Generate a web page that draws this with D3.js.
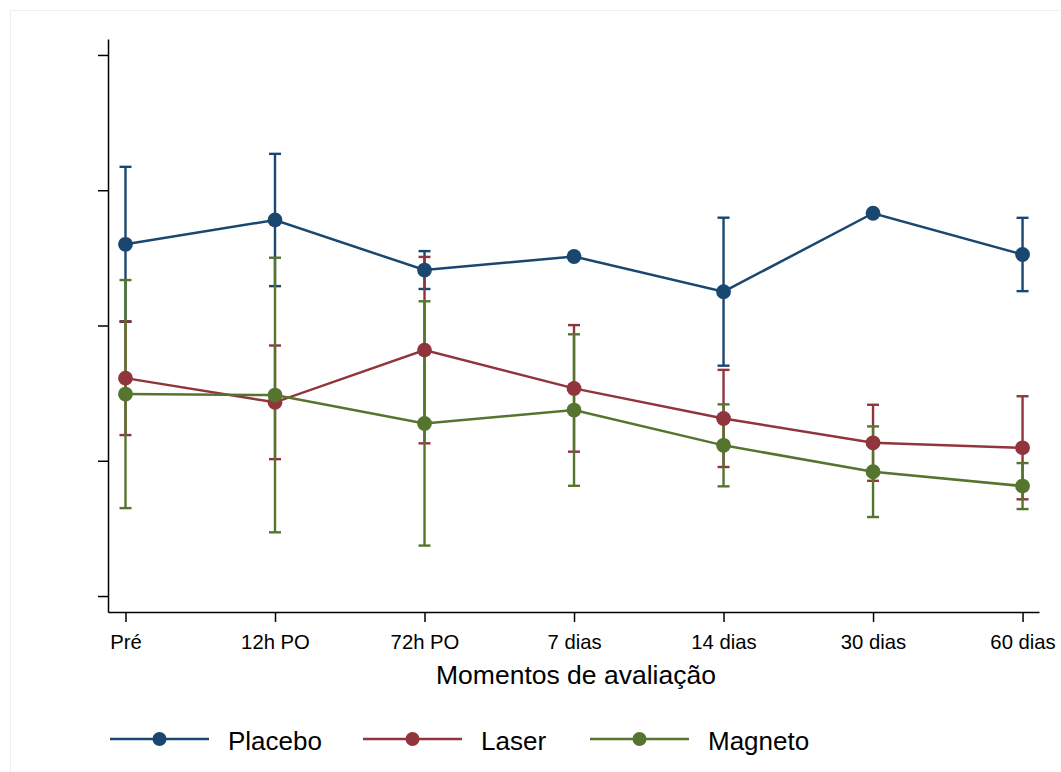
<!DOCTYPE html>
<html>
<head>
<meta charset="utf-8">
<script src="https://cdn.jsdelivr.net/npm/d3@7"></script>
<style>
  body { margin: 0; background: #fff; }
  svg { display: block; font-family: "Liberation Sans", Arial, sans-serif; }
</style>
</head>
<body>
<div id="chart-container"></div>
<script>
const width = 1061;
const height = 772;

// categories on x
const momentos = ["Pré", "12h PO", "72h PO", "7 dias", "14 dias", "30 dias", "60 dias"];
const seriesNames = ["Placebo", "Laser", "Magneto"];

// group means and error half-widths (arbitrary units)
const placeboMean = [2.60, 2.78, 2.41, 2.51, 2.25, 2.83, 2.525];
const placeboErr  = [0.573, 0.489, 0.140, 0.02, 0.547, 0.01, 0.271];
const laserMean   = [1.611, 1.432, 1.818, 1.535, 1.313, 1.133, 1.096];
const laserErr    = [0.421, 0.420, 0.689, 0.468, 0.359, 0.281, 0.381];
const magnetoMean = [1.493, 1.486, 1.276, 1.375, 1.114, 0.919, 0.813];
const magnetoErr  = [0.843, 1.015, 0.903, 0.560, 0.303, 0.335, 0.170];

const yTicks = [0, 1, 2, 3, 4];
const colors = ["#1a476f", "#90353b", "#55752f"];

const series = [
  { name: seriesNames[0], mean: placeboMean, err: placeboErr, color: colors[0] },
  { name: seriesNames[1], mean: laserMean, err: laserErr, color: colors[1] },
  { name: seriesNames[2], mean: magnetoMean, err: magnetoErr, color: colors[2] }
];

const svg = d3.select("div#chart-container").append("svg")
  .attr("width", width)
  .attr("height", height);

// faint outer frame of the graph region
svg.append("rect")
  .attr("x", 10.5).attr("y", 10.5)
  .attr("width", width + 20).attr("height", height + 20)
  .attr("fill", "none")
  .attr("stroke", "#eeeeee")
  .attr("stroke-width", 1);

const xScale = d3.scaleLinear().domain([-0.117, 6.11]).range([108, 1039]);
const yScale = d3.scaleLinear().domain([-0.118, 4.118]).range([612, 39]);

const xaxis = d3.axisBottom(xScale)
  .tickValues(d3.range(momentos.length))
  .tickFormat(i => momentos[i])
  .tickSize(10)
  .tickSizeOuter(0)
  .tickPadding(13);

const yaxis = d3.axisLeft(yScale)
  .tickValues(yTicks)
  .tickFormat("")
  .tickSize(10)
  .tickSizeOuter(0);

const gx = svg.append("g")
  .attr("class", "axis")
  .attr("transform", "translate(0,612)")
  .call(xaxis);
gx.selectAll("text")
  .attr("font-size", 20.3)
  .attr("font-family", "Liberation Sans, Arial, sans-serif")
  .attr("fill", "#000");

const gy = svg.append("g")
  .attr("class", "axis")
  .attr("transform", "translate(108,0)")
  .call(yaxis);

svg.selectAll(".axis path, .axis line")
  .attr("stroke", "#000")
  .attr("stroke-width", 1.5);

// x axis title
svg.append("text")
  .attr("x", 576)
  .attr("y", 684)
  .attr("text-anchor", "middle")
  .attr("font-size", 26.5)
  .attr("fill", "#000")
  .text("Momentos de avaliação");

// error bars (drawn first, in series order)
const capHalf = 6;
series.forEach(s => {
  const g = svg.append("g").attr("class", "errbar")
    .attr("stroke", s.color)
    .attr("stroke-width", 2.4)
    .attr("fill", "none");
  const pts = s.mean.map((m, i) => ({ i: i, lo: m - s.err[i], hi: m + s.err[i] }));
  g.selectAll("line.v").data(pts).enter().append("line")
    .attr("class", "v")
    .attr("x1", d => xScale(d.i)).attr("x2", d => xScale(d.i))
    .attr("y1", d => yScale(d.lo)).attr("y2", d => yScale(d.hi));
  g.selectAll("line.top").data(pts).enter().append("line")
    .attr("class", "top")
    .attr("x1", d => xScale(d.i) - capHalf).attr("x2", d => xScale(d.i) + capHalf)
    .attr("y1", d => yScale(d.hi)).attr("y2", d => yScale(d.hi));
  g.selectAll("line.bot").data(pts).enter().append("line")
    .attr("class", "bot")
    .attr("x1", d => xScale(d.i) - capHalf).attr("x2", d => xScale(d.i) + capHalf)
    .attr("y1", d => yScale(d.lo)).attr("y2", d => yScale(d.lo));
});

// connected lines with markers
const line = d3.line()
  .x((d, i) => xScale(i))
  .y(d => yScale(d));

series.forEach(s => {
  const g = svg.append("g").attr("class", "series");
  g.append("path")
    .attr("d", line(s.mean))
    .attr("fill", "none")
    .attr("stroke", s.color)
    .attr("stroke-width", 2.5);
  g.selectAll("circle").data(s.mean).enter().append("circle")
    .attr("cx", (d, i) => xScale(i))
    .attr("cy", d => yScale(d))
    .attr("r", 7.4)
    .attr("fill", s.color);
});

// legend
const legendX = [110, 363, 590];
const legend = svg.append("g").attr("class", "legend");
series.forEach((s, k) => {
  const g = legend.append("g").attr("transform", "translate(" + legendX[k] + ",739)");
  g.append("line")
    .attr("x1", 0).attr("x2", 99)
    .attr("y1", 0).attr("y2", 0)
    .attr("stroke", s.color)
    .attr("stroke-width", 2.5);
  g.append("circle")
    .attr("cx", 49.5).attr("cy", 0)
    .attr("r", 7)
    .attr("fill", s.color);
  g.append("text")
    .attr("x", 118)
    .attr("y", 11)
    .attr("font-size", 26)
    .attr("fill", "#000")
    .text(s.name);
});
</script>
</body>
</html>
